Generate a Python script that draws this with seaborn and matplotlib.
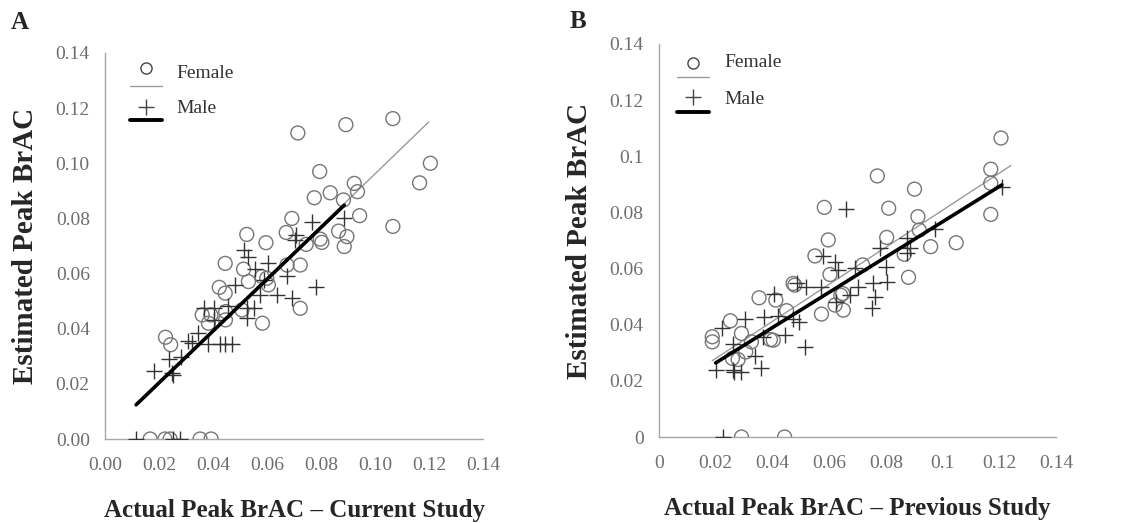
import matplotlib
matplotlib.use("Agg")
import matplotlib.pyplot as plt
import seaborn as sns
import pandas as pd


# panel A - current study
fem_a_x = [0.1066, 0.0892, 0.0714, 0.1205, 0.1165, 0.1066, 0.0795, 0.0923, 0.0935, 0.0834,
           0.0775, 0.0883, 0.0943, 0.0692, 0.0671, 0.0865, 0.0896, 0.0797, 0.0803, 0.0886,
           0.0745, 0.0525, 0.0596, 0.0674, 0.0723, 0.0445, 0.0513, 0.0581, 0.0605, 0.0531,
           0.0423, 0.0445, 0.0723, 0.0507, 0.0447, 0.0583, 0.0360, 0.0392, 0.0383, 0.0224,
           0.0243, 0.0446, 0.0167, 0.0222, 0.0241, 0.0352, 0.0393, 0.0599]
fem_a_y = [0.1162, 0.1140, 0.1110, 0.1000, 0.0929, 0.0771, 0.0970, 0.0927, 0.0897, 0.0893,
           0.0875, 0.0867, 0.0810, 0.0800, 0.0749, 0.0754, 0.0734, 0.0725, 0.0713, 0.0698,
           0.0706, 0.0742, 0.0712, 0.0631, 0.0631, 0.0637, 0.0616, 0.0589, 0.0559, 0.0571,
           0.0550, 0.0529, 0.0474, 0.0468, 0.0462, 0.0420, 0.0450, 0.0450, 0.0420, 0.0369,
           0.0342, 0.0432, 0.0, 0.0, 0.0, 0.0, 0.0, 0.0583]
male_a_x = [0.0115, 0.0253, 0.0278, 0.0183, 0.0238, 0.0247, 0.0253, 0.0282, 0.0309, 0.0321,
            0.0346, 0.0383, 0.0426, 0.0445, 0.0472, 0.0368, 0.0402, 0.0457, 0.0482, 0.0513,
            0.0531, 0.0556, 0.0605, 0.0525, 0.0525, 0.0550, 0.0575, 0.0636, 0.0673, 0.0692,
            0.0782, 0.0766, 0.0886, 0.0707, 0.0704, 0.0587, 0.0402]
male_a_y = [0.0, 0.0, 0.0, 0.0245, 0.0290, 0.0241, 0.0233, 0.0299, 0.0354, 0.0348,
            0.0384, 0.0345, 0.0345, 0.0345, 0.0345, 0.0474, 0.0474, 0.0483, 0.0559, 0.0685,
            0.0661, 0.0616, 0.0637, 0.0474, 0.0438, 0.0474, 0.0523, 0.0523, 0.0591, 0.0511,
            0.0553, 0.0788, 0.0800, 0.0740, 0.0722, 0.0577, 0.0432]
fit_a_fem_x, fit_a_fem_y = [0.0167, 0.1199], [0.0173, 0.1150]
fit_a_male_x, fit_a_male_y = [0.0115, 0.0886], [0.0124, 0.0848]

# panel B - previous study
fem_b_x = [0.1206, 0.1170, 0.1170, 0.1170, 0.0770, 0.0901, 0.0810, 0.0913, 0.0918, 0.0803,
           0.1048, 0.0958, 0.0880, 0.0865, 0.0718, 0.0597, 0.0583, 0.0550, 0.0603, 0.0473,
           0.0479, 0.0353, 0.0412, 0.0450, 0.0573, 0.0621, 0.0648, 0.0641, 0.0650, 0.0252,
           0.0291, 0.0188, 0.0188, 0.0326, 0.0393, 0.0403, 0.0306, 0.0259, 0.0279, 0.0291,
           0.0443]
fem_b_y = [0.1065, 0.0954, 0.0904, 0.0793, 0.0930, 0.0883, 0.0815, 0.0785, 0.0737, 0.0711,
           0.0692, 0.0678, 0.0569, 0.0651, 0.0613, 0.0702, 0.0818, 0.0645, 0.0579, 0.0547,
           0.0541, 0.0496, 0.0488, 0.0450, 0.0438, 0.0470, 0.0511, 0.0505, 0.0452, 0.0414,
           0.0369, 0.0357, 0.0339, 0.0339, 0.0347, 0.0345, 0.0303, 0.0280, 0.0276, 0.0,
           0.0]
male_b_x = [0.0226, 0.1209, 0.0973, 0.0874, 0.0874, 0.0885, 0.0779, 0.0800, 0.0803, 0.0756,
            0.0762, 0.0750, 0.0658, 0.0579, 0.0621, 0.0632, 0.0691, 0.0703, 0.0674, 0.0573,
            0.0520, 0.0487, 0.0626, 0.0405, 0.0370, 0.0420, 0.0494, 0.0473, 0.0303, 0.0224,
            0.0261, 0.0367, 0.0444, 0.0515, 0.0338, 0.0359, 0.0200, 0.0261, 0.0291, 0.0265]
male_b_y = [0.0, 0.0889, 0.0740, 0.0708, 0.0654, 0.0672, 0.0672, 0.0607, 0.0553, 0.0547,
            0.0500, 0.0458, 0.0812, 0.0645, 0.0624, 0.0595, 0.0601, 0.0535, 0.0506, 0.0535,
            0.0535, 0.0550, 0.0482, 0.0511, 0.0428, 0.0431, 0.0410, 0.0422, 0.0422, 0.0387,
            0.0333, 0.0357, 0.0363, 0.0321, 0.0288, 0.0246, 0.0240, 0.0240, 0.0232, 0.0232]
fit_b_fem_x, fit_b_fem_y = [0.0188, 0.1241], [0.0272, 0.0967]
fit_b_male_x, fit_b_male_y = [0.0200, 0.1209], [0.0264, 0.0898]

ticks = [0.0, 0.02, 0.04, 0.06, 0.08, 0.10, 0.12, 0.14]
tick_labels_a = ["0.00", "0.02", "0.04", "0.06", "0.08", "0.10", "0.12", "0.14"]
tick_labels_b = ["0", "0.02", "0.04", "0.06", "0.08", "0.1", "0.12", "0.14"]

sns.set_style("white")
plt.rcParams["font.family"] = ["Liberation Serif", "DejaVu Serif"]

AXIS_GREY = "#a8a8a8"
TICK_TXT = "#6e6e6e"
FEM_COL = "#767676"
MALE_COL = "#333333"


def draw_panel(ax, fx, fy, mx, my, ffx, ffy, mfx, mfy, labels, xlabel, letter, leg, let_pos):
    sns.lineplot(x=ffx, y=ffy, ax=ax, color="#9a9a9a", lw=1.0)
    sns.scatterplot(x=fx, y=fy, ax=ax, marker="o", s=100, facecolors="none",
                    edgecolor=FEM_COL, linewidth=1.0, zorder=3)
    sns.scatterplot(x=mx, y=my, ax=ax, marker="+", s=140, color=MALE_COL,
                    linewidth=1.0, zorder=3)
    sns.lineplot(x=mfx, y=mfy, ax=ax, color="black", lw=2.6, zorder=4)

    ax.set_xlim(0, 0.14)
    ax.set_ylim(0, 0.14)
    ax.set_xticks(ticks)
    ax.set_xticklabels(labels)
    ax.set_yticks(ticks)
    ax.set_yticklabels(labels)
    ax.tick_params(axis="both", direction="out", length=5, width=1,
                   color=AXIS_GREY, labelcolor=TICK_TXT, labelsize=14, pad=6)
    ax.tick_params(axis="x", pad=8)
    for side in ["top", "right"]:
        ax.spines[side].set_visible(False)
    for side in ["left", "bottom"]:
        ax.spines[side].set_color(AXIS_GREY)
        ax.spines[side].set_linewidth(1.0)
    ax.spines["bottom"].set_zorder(0)
    ax.set_xlabel(xlabel, fontsize=18, fontweight="bold", labelpad=18)
    ax.set_ylabel("Estimated Peak BrAC", fontsize=21, fontweight="bold", labelpad=12)

    # Excel-style legend: marker above its trend line
    x0, x1, xm, xt, yc, ygl, yp, ybl, yf, ym = leg
    ax.plot([x0, x1], [ygl, ygl], transform=ax.transAxes, color="#9a9a9a",
            lw=1.0, clip_on=False)
    ax.plot([xm], [yc], transform=ax.transAxes, marker="o", ms=8,
            mfc="none", mec="#444444", mew=1.0, clip_on=False)
    ax.plot([x0, x1], [ybl, ybl], transform=ax.transAxes, color="black",
            lw=2.8, clip_on=False)
    ax.plot([xm], [yp], transform=ax.transAxes, marker="+", ms=11,
            color="#444444", mew=1.0, clip_on=False)
    ax.text(xt, yf, "Female", transform=ax.transAxes, fontsize=14,
            color="#333333", va="center")
    ax.text(xt, ym, "Male", transform=ax.transAxes, fontsize=14,
            color="#333333", va="center")
    ax.text(let_pos[0], let_pos[1], letter, transform=ax.transAxes, fontsize=18,
            fontweight="bold", va="center", ha="left")


fig = plt.figure(figsize=(11.27, 5.23), dpi=100)
ax_a = fig.add_axes([0.0932, 0.1606, 0.3354, 0.7381])
ax_b = fig.add_axes([0.5847, 0.1644, 0.3523, 0.7515])

draw_panel(ax_a, fem_a_x, fem_a_y, male_a_x, male_a_y, fit_a_fem_x, fit_a_fem_y,
           fit_a_male_x, fit_a_male_y, tick_labels_a,
           "Actual Peak BrAC \u2013 Current Study", "A",
           (0.066, 0.151, 0.108, 0.19, 0.961, 0.915, 0.860, 0.826, 0.946, 0.855),
           (-0.25, 1.078))
draw_panel(ax_b, fem_b_x, fem_b_y, male_b_x, male_b_y, fit_b_fem_x, fit_b_fem_y,
           fit_b_male_x, fit_b_male_y, tick_labels_b,
           "Actual Peak BrAC \u2013 Previous Study", "B",
           (0.045, 0.126, 0.086, 0.164, 0.952, 0.916, 0.865, 0.827, 0.952, 0.860),
           (-0.224, 1.056))

fig.savefig("out.png", dpi=100)
